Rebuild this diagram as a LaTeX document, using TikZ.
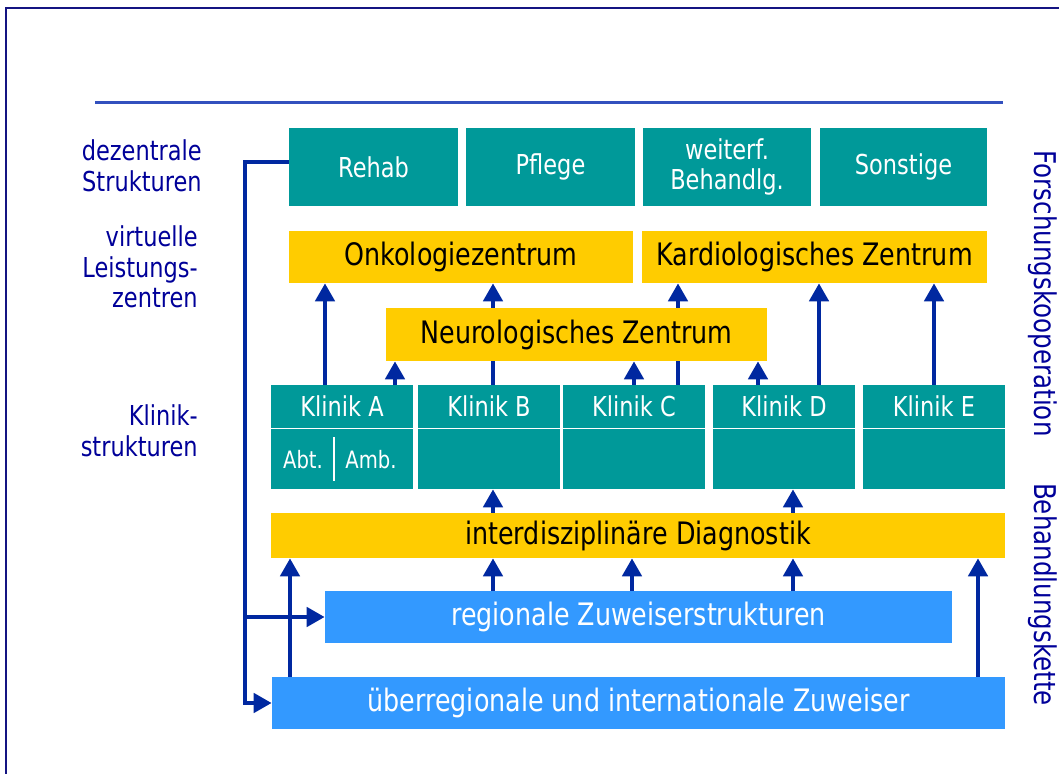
\documentclass[tikz,border=0pt]{standalone}
\usepackage{fontspec}
\setmainfont{DejaVu Sans}[FakeStretch=0.82]
\usetikzlibrary{arrows.meta, backgrounds}
\definecolor{petrol}{RGB}{0,153,153}
\definecolor{gelb}{RGB}{255,204,0}
\definecolor{hellblau}{RGB}{51,153,255}
\definecolor{pfeil}{RGB}{0,40,160}
\definecolor{schrift}{RGB}{0,0,153}
\definecolor{rahmen}{RGB}{20,20,130}
\definecolor{regel}{RGB}{50,80,190}

\begin{document}
\begin{tikzpicture}[x=0.025cm, y=-0.025cm, >={Triangle[length=12.8pt,width=13.5pt]},
  groesse/.style 2 args={minimum width=#1*0.025cm, minimum height=#2*0.025cm},
  kasten/.style={inner sep=0pt, align=center},
  gruen/.style={kasten, fill=petrol, text=white, font=\fontsize{19.5}{21.5}\selectfont},
  gelbkasten/.style={kasten, fill=gelb, text=black, font=\fontsize{22}{24}\selectfont},
  blaukasten/.style={kasten, fill=hellblau, text=white, font=\fontsize{22}{24}\selectfont},
  linie/.style={draw=pfeil, line width=3.2pt},
  pfl/.style={linie, ->},
  ebene/.style={text=schrift, align=right, anchor=east, inner sep=0pt, font=\fontsize{19.5}{21.8}\selectfont},
  seite/.style={text=schrift, rotate=-90, font=\fontsize{21.3}{24}\selectfont}]
\useasboundingbox (0,0) rectangle (1059,774);
% Rahmen und Linie
\draw[rahmen, line width=2pt] (6,790) -- (6,8) -- (1075,8);
\draw[regel, line width=1.6pt] (95,102.5) -- (1003,102.5);

% Ebenen links
\node[ebene] (dez) at (202,165.5) {dezentrale\\Strukturen};
\node[ebene] (virt) at (198,267) {virtuelle\\Leistungs-\\zentren};
\node[ebene] (klin) at (198,430.5) {Klinik-\\strukturen};

% dezentrale Strukturen
\node[gruen, groesse={169}{78}] (rehab) at (373.5,167) {Rehab};
\node[gruen, groesse={169}{78}] (pflege) at (550.5,167) {Pflege};
\node[gruen, groesse={168}{78}] (weiter) at (727,167) {weiterf.\\Behandlg.};
\node[gruen, groesse={167}{78}] (sonst) at (903.5,167) {Sonstige};

% Leistungszentren
\node[gelbkasten, groesse={344}{52}] (onko) at (461,257) {Onkologiezentrum};
\node[gelbkasten, groesse={345}{52}] (kardio) at (814.5,257) {Kardiologisches Zentrum};
\node[gelbkasten, groesse={381}{53}] (neuro) at (576.5,334.5) {Neurologisches Zentrum};

% Kliniken
\foreach \k/\x in {A/342,B/489,C/634,D/784,E/934}{
  \node[gruen, groesse={142}{43}] (k\k) at (\x,406.5) {Klinik \k};
  \node[gruen, groesse={142}{60}] (k\k b) at (\x,459) {};
}
\node[text=white, font=\fontsize{17}{19}\selectfont] (abt) at (303,460) {Abt.};
\node[text=white, font=\fontsize{17}{19}\selectfont] (amb) at (371,460) {Amb.};
\draw[white, line width=0.8pt] (334,437) -- (334,481);

% Diagnostik und Zuweiser
\node[gelbkasten, groesse={734}{45}] (diag) at (638,535.5) {interdisziplinäre Diagnostik};
\node[blaukasten, groesse={627}{52}] (region) at (638.5,617) {regionale Zuweiserstrukturen};
\node[blaukasten, groesse={733}{52}] (ueber) at (638.5,703) {überregionale und internationale Zuweiser};

% rechts
\node[seite] (forsch) at (1043,293.5) {Forschungskooperation};
\node[seite] (behand) at (1043,594.5) {Behandlungskette};

% Pfeile
\begin{scope}[on background layer]
\foreach \x/\von/\nach in {325/kA/onko, 493/kB/onko, 678/kC/kardio, 819/kD/kardio, 934/kE/kardio}
  \draw[pfl] (\von.north -| \x,0) -- (\nach.south -| \x,0);
\end{scope}
\foreach \x/\von in {395/kA, 634/kC, 758/kD}
  \draw[pfl] (\von.north -| \x,0) -- (neuro.south -| \x,0);
\foreach \x/\nach in {493/kBb, 793/kDb}
  \draw[pfl] (diag.north -| \x,0) -- (\nach.south -| \x,0);
\foreach \x in {493,632,793}
  \draw[pfl] (region.north -| \x,0) -- (diag.south -| \x,0);
\foreach \x in {290,978}
  \draw[pfl] (ueber.north -| \x,0) -- (diag.south -| \x,0);

\coordinate (knick) at (245,162);
\draw[pfl] (rehab.west |- knick) -- (knick) |- (ueber.west);
\draw[pfl] (knick |- region.west) -- (region.west);
\end{tikzpicture}
\end{document}
